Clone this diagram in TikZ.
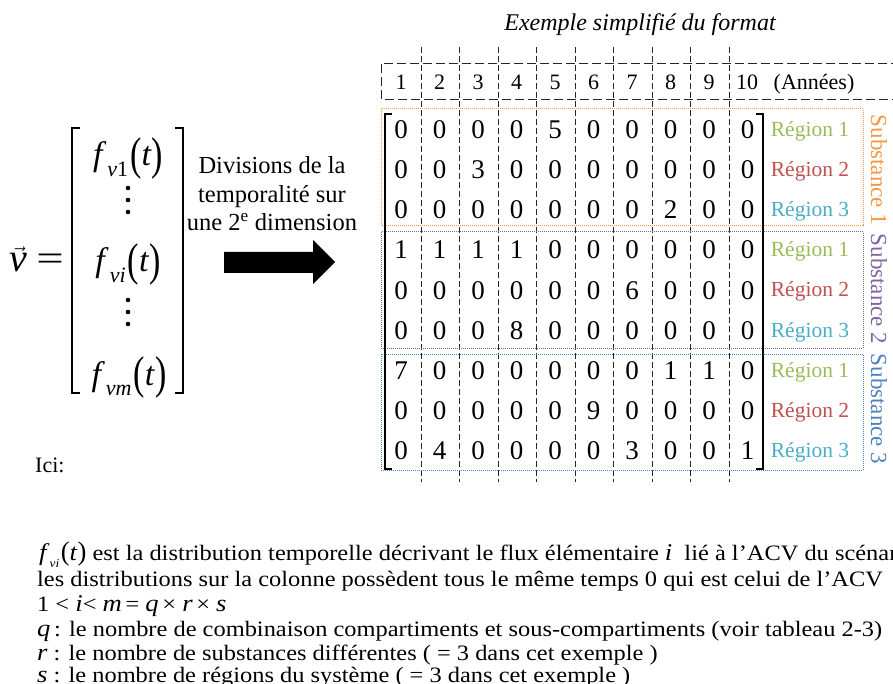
\documentclass[tikz,border=0pt]{standalone}
\usepackage{fontspec}
\setmainfont{Liberation Serif}
\newfontfamily\bodyfont[FakeStretch=1.11]{Liberation Serif}
\usepackage{graphicx}
\definecolor{rgreen}{HTML}{9BBB59}
\definecolor{rred}{HTML}{C0504D}
\definecolor{rcyan}{HTML}{4BACC6}
\definecolor{sorange}{HTML}{F79646}
\definecolor{spurple}{HTML}{8064A2}
\definecolor{sblue}{HTML}{4F81BD}
\newcommand{\bigparen}[1]{\raisebox{-0.1em}{\scalebox{1}[1.35]{#1}}}
\newcommand{\medparen}[1]{\raisebox{-0.04em}{\scalebox{1}[1.12]{#1}}}
\newcommand{\fvec}[1]{\textit{f}\hspace{1pt}\raisebox{-0.3em}{\fontsize{22}{24}\selectfont #1}\hspace{2pt}\bigparen{(}\textit{t}\bigparen{)}}
\newcommand{\fsmall}[1]{\textit{f}\raisebox{-0.3em}{\fontsize{12}{13}\selectfont #1}\hspace{1.5pt}\medparen{(}\textit{t}\medparen{)}}
\newcommand{\bi}[1]{{\fontsize{24}{25}\selectfont\itshape #1}}
\begin{document}
\begin{tikzpicture}[x=1pt,y=-1pt,
  hdr/.style={font=\fontsize{22}{26}\selectfont, inner sep=0pt, anchor=base},
  num/.style={font=\fontsize{27}{30}\selectfont, inner sep=0pt, anchor=base},
  reg/.style={font=\fontsize{21.5}{25}\selectfont, inner sep=0pt, anchor=base},
  sublab/.style={font=\fontsize{23}{26}\selectfont, inner sep=0pt, rotate=-90},
  coldash/.style={dash pattern=on 6pt off 3pt, line width=0.9pt, black!85},
  hdrdash/.style={dash pattern=on 9pt off 4pt, line width=0.9pt, black!85},
  grp/.style={dash pattern=on 1pt off 1pt, line width=1pt},
  brk/.style={line width=1.6pt},
  fent/.style={font=\fontsize{34}{38}\selectfont, inner sep=0pt, anchor=base},
  vdot/.style={circle, fill=black, inner sep=0pt, minimum size=4.6pt},
  bodytxt/.style={font=\bodyfont\fontsize{22}{24}\selectfont, inner sep=0pt, anchor=base west},
]
\useasboundingbox (0,0) rectangle (893,684);
\clip (0,0) rectangle (893,684);
\fill[white] (0,0) rectangle (893,684);

% title
\node[font=\fontsize{24}{28}\selectfont\itshape, inner sep=0pt, anchor=base] (title) at (640,31) {Exemple simplifié du format};

% header
\draw[hdrdash] (900,63) -- (381,63) -- (381,99) -- (900,99);
\foreach \i in {1,...,9}
  \draw[coldash] ({421+38.5*(\i-1)},47) -- ({421+38.5*(\i-1)},482);
\foreach \i in {1,...,9}
  \node[hdr] (h\i) at ({401+38.5*(\i-1)},90) {\i};
\node[hdr] (h10) at (747,90) {10};
\node[hdr] (yrs) at (814,90) {(Années)};

% substance groups
\draw[grp, sorange] (381,109) rectangle (863,226);
\draw[grp, spurple] (381,232) rectangle (863,348);
\draw[grp, sblue] (381,354) rectangle (863,470);

% matrix brackets
\draw[brk] (392,114) -- (385,114) -- (385,469) -- (392,469);
\draw[brk] (756,114) -- (763,114) -- (763,469) -- (756,469);

% matrix values
\foreach \row [count=\r] in {
  {0,0,0,0,5,0,0,0,0,0},
  {0,0,3,0,0,0,0,0,0,0},
  {0,0,0,0,0,0,0,2,0,0},
  {1,1,1,1,0,0,0,0,0,0},
  {0,0,0,0,0,0,6,0,0,0},
  {0,0,0,8,0,0,0,0,0,0},
  {7,0,0,0,0,0,0,1,1,0},
  {0,0,0,0,0,9,0,0,0,0},
  {0,4,0,0,0,0,3,0,0,1}} {
  \foreach \v [count=\c] in \row {
    \node[num] (m-\r-\c) at ({401+38.5*(\c-1)},{139+40*(\r-1)}) {\v};
  }
}

% region labels
\foreach \s in {0,1,2} {
  \node[reg, text=rgreen] (rg\s-1) at (810,{137+120*\s}) {Région 1};
  \node[reg, text=rred]   (rg\s-2) at (810,{177+120*\s}) {Région 2};
  \node[reg, text=rcyan]  (rg\s-3) at (810,{217+120*\s}) {Région 3};
}

% substance labels
\node[sublab, text=sorange] (s1) at (879,170) {Substance 1};
\node[sublab, text=spurple] (s2) at (879,289) {Substance 2};
\node[sublab, text=sblue]   (s3) at (879,409) {Substance 3};

% vector
\node[font=\fontsize{40}{42}\selectfont, inner sep=0pt, anchor=base west] (vv) at (9,272) {$\vec{\textit{v}}$};
\node[font=\fontsize{36}{38}\selectfont, inner sep=0pt] (eq) at (50,262) {\scalebox{1.35}[1]{=}};
\draw[brk] (80,128) -- (72,128) -- (72,393) -- (80,393);
\draw[brk] (175,128) -- (183,128) -- (183,393) -- (175,393);
\node[fent] (f1) at (128,166) {\fvec{\textit{v}1}};
\node[vdot] (d1a) at (128,188) {};
\node[vdot] (d1b) at (128,200) {};
\node[vdot] (d1c) at (128,212) {};
\node[fent] (fi) at (128,272) {\fvec{\textit{vi}}};
\node[vdot] (d2a) at (128,300) {};
\node[vdot] (d2b) at (128,312) {};
\node[vdot] (d2c) at (128,324) {};
\node[fent] (fm) at (129,385) {\fvec{\textit{vm}}};

% division text and arrow
\node[font=\fontsize{24.5}{28.5}\selectfont, align=center, inner sep=0pt] (div) at (272,194)
  {Divisions de la\\temporalité sur\\une 2\textsuperscript{e} dimension};
\fill (224,252) -- (313,252) -- (313,240) -- (335,262) -- (313,284) -- (313,273) -- (224,273) -- cycle;

% explanations
\node[font=\fontsize{22}{26}\selectfont, inner sep=0pt, anchor=base west] (ici) at (35,472) {Ici:};
\node[bodytxt] (l1) at (39,560) {{\fontsize{24}{25}\selectfont\fsmall{\textit{vi}}} est la distribution temporelle décrivant le flux élémentaire \bi{i} \ lié à l’ACV du scénario};
\node[bodytxt] (l2) at (37,586) {les distributions sur la colonne possèdent tous le même temps 0 qui est celui de l’ACV};
\node[bodytxt] (l3) at (37,611) {1 < \bi{i}< \bi{m}\,= \bi{q}\,× \bi{r}\,× \bi{s}};
\node[bodytxt] (l4) at (37,636) {\bi{q}\,: le nombre de combinaison compartiments et sous-compartiments (voir tableau 2-3)};
\node[bodytxt] (l5) at (37,660) {\bi{r} : le nombre de substances différentes ( = 3 dans cet exemple )};
\node[bodytxt] (l6) at (37,682) {\bi{s} : le nombre de régions du système ( = 3 dans cet exemple )};
\end{tikzpicture}
\end{document}
